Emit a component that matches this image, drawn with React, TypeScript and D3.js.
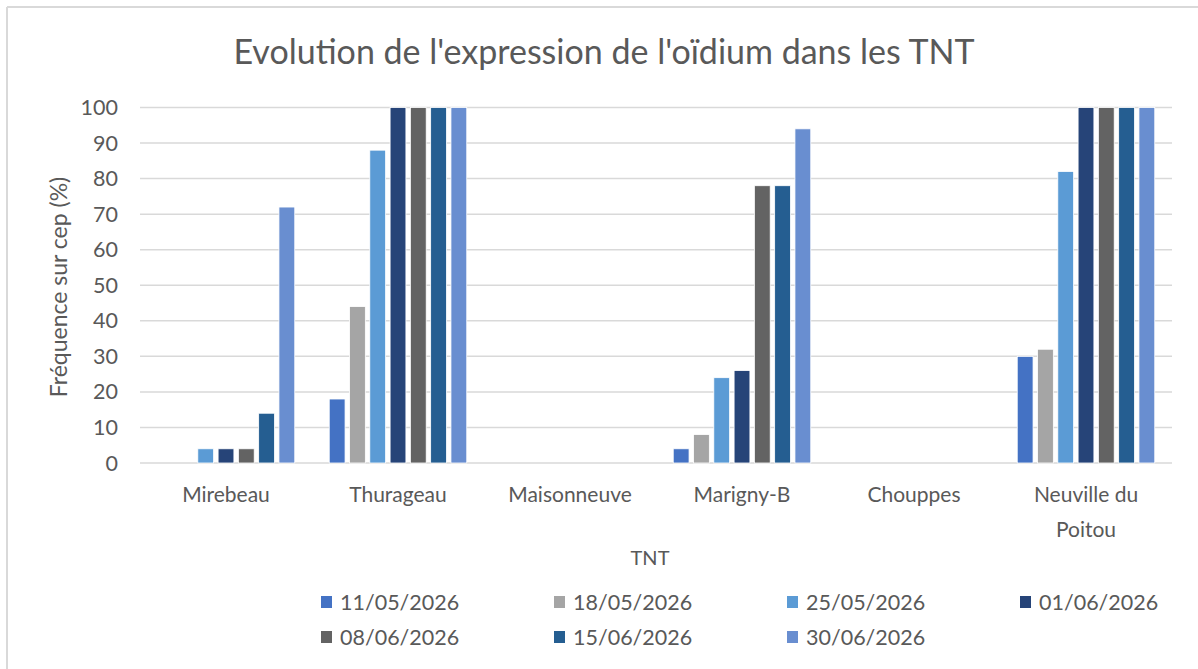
import { useEffect, useRef } from 'react';
import * as d3 from 'd3';

const categories = ['Mirebeau', 'Thurageau', 'Maisonneuve', 'Marigny-B', 'Chouppes', 'Neuville du Poitou'];
const dates = ['11/05/2026', '18/05/2026', '25/05/2026', '01/06/2026', '08/06/2026', '15/06/2026', '30/06/2026'];

// one array per date, values in the order of categories
const s1105 = [0, 18, 0, 4, 0, 30];
const s1805 = [0, 44, 0, 8, 0, 32];
const s2505 = [4, 88, 0, 24, 0, 82];
const s0106 = [4, 100, 0, 26, 0, 100];
const s0806 = [4, 100, 0, 78, 0, 100];
const s1506 = [14, 100, 0, 78, 0, 100];
const s3006 = [72, 100, 0, 94, 0, 100];
const series = [s1105, s1805, s2505, s0106, s0806, s1506, s3006];

const yTicks = [0, 10, 20, 30, 40, 50, 60, 70, 80, 90, 100];
const COLORS = ['#4472C4', '#A5A5A5', '#5B9BD5', '#264478', '#636363', '#255E91', '#698ED0'];

const W = 1198;
const H = 669;
const FONT = 'Lato, "Open Sans", sans-serif';
const TXT = '#595959';
const GRID = '#D9D9D9';

export default function App() {
  const svgRef = useRef<SVGSVGElement>(null);

  useEffect(() => {
    if (!svgRef.current) return;
    const svg = d3.select(svgRef.current);
    svg.selectAll('*').remove();

    const plot = { left: 140, right: 1172, top: 107.5, bottom: 463 };

    // chart frame (only left and top edges show)
    svg.append('line').attr('x1', 7).attr('x2', 7).attr('y1', 7).attr('y2', H)
      .attr('stroke', GRID).attr('stroke-width', 2);
    svg.append('line').attr('x1', 7).attr('x2', W).attr('y1', 7).attr('y2', 7)
      .attr('stroke', GRID).attr('stroke-width', 2);

    svg.append('text')
      .attr('x', 604).attr('y', 64)
      .attr('text-anchor', 'middle')
      .attr('font-family', FONT).attr('font-size', 34).attr('fill', TXT)
      .text("Evolution de l'expression de l'oïdium dans les TNT");

    const x0 = d3.scaleBand().domain(categories).range([plot.left, plot.right]).padding(0);
    const x1 = d3.scaleBand<number>()
      .domain(d3.range(dates.length))
      .range([15, x0.bandwidth() - 15])
      .paddingInner(0.22)
      .paddingOuter(0.11);
    const y = d3.scaleLinear().domain([0, 100]).range([plot.bottom, plot.top]);

    // gridlines
    svg.append('g')
      .selectAll('line')
      .data(yTicks)
      .join('line')
      .attr('x1', plot.left).attr('x2', plot.right)
      .attr('y1', (d) => y(d)).attr('y2', (d) => y(d))
      .attr('stroke', GRID).attr('stroke-width', 1.5);

    // y tick labels
    svg.append('g')
      .selectAll('text')
      .data(yTicks)
      .join('text')
      .attr('x', 118).attr('y', (d) => y(d))
      .attr('dy', '0.35em')
      .attr('text-anchor', 'end')
      .attr('font-family', FONT).attr('font-size', 21.5).attr('fill', TXT)
      .text((d) => d);

    // bars
    const groups = svg.append('g')
      .selectAll('g')
      .data(categories)
      .join('g')
      .attr('transform', (c) => `translate(${x0(c)},0)`);

    groups.selectAll('rect')
      .data((c, ci) => series.map((s, si) => ({ si, v: s[ci] })).filter((d) => d.v > 0))
      .join('rect')
      .attr('x', (d) => x1(d.si) || 0)
      .attr('width', x1.bandwidth())
      .attr('y', (d) => y(d.v))
      .attr('height', (d) => y(0) - y(d.v))
      .attr('fill', (d) => COLORS[d.si])
      .attr('stroke', '#fff')
      .attr('stroke-width', 0.8);

    // category labels, wrapped to band width
    const catLabels = svg.append('g')
      .selectAll('text')
      .data(categories)
      .join('text')
      .attr('x', (c) => (x0(c) || 0) + x0.bandwidth() / 2)
      .attr('y', 502)
      .attr('text-anchor', 'middle')
      .attr('font-family', FONT).attr('font-size', 21).attr('fill', TXT);

    catLabels.each(function (c) {
      const t = d3.select(this);
      const words = c.split(' ');
      let line: string[] = [];
      let tspan = t.append('tspan').attr('x', t.attr('x')).attr('dy', 0);
      words.forEach((w) => {
        line.push(w);
        tspan.text(line.join(' '));
        if ((tspan.node() as SVGTSpanElement).getComputedTextLength() > 115 && line.length > 1) {
          line.pop();
          tspan.text(line.join(' '));
          line = [w];
          tspan = t.append('tspan').attr('x', t.attr('x')).attr('dy', 35).text(w);
        }
      });
    });

    // axis titles
    svg.append('text')
      .attr('x', (plot.left + plot.right) / 2 - 6).attr('y', 565)
      .attr('text-anchor', 'middle')
      .attr('font-family', FONT).attr('font-size', 20).attr('fill', TXT)
      .text('TNT');

    svg.append('text')
      .attr('transform', 'translate(67,287) rotate(-90)')
      .attr('text-anchor', 'middle')
      .attr('font-family', FONT).attr('font-size', 23).attr('fill', TXT)
      .text('Fréquence sur cep (%)');

    // legend
    const legend = svg.append('g')
      .selectAll('g')
      .data(dates)
      .join('g')
      .attr('transform', (d, i) => `translate(${321 + (i % 4) * 233},${602 + Math.floor(i / 4) * 35})`);

    legend.append('rect')
      .attr('x', 0).attr('y', -6).attr('width', 11).attr('height', 12)
      .attr('fill', (d, i) => COLORS[i]);

    legend.append('text')
      .attr('x', 19).attr('dy', '0.35em')
      .attr('font-family', FONT).attr('font-size', 21.5).attr('fill', TXT)
      .text((d) => d);
  }, []);

  return (
    <svg
      ref={svgRef}
      width={W}
      height={H}
      style={{ position: 'absolute', left: 0, top: 0, background: '#fff' }}
    />
  );
}
